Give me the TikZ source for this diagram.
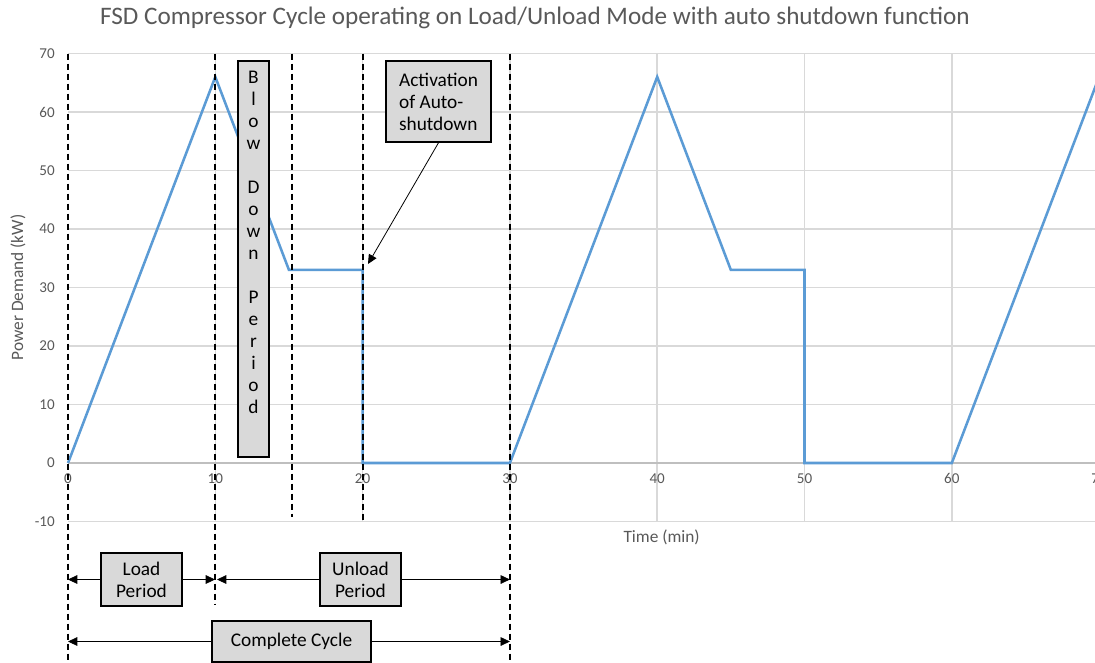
\documentclass[tikz,border=0pt]{standalone}
\usepackage{fontspec}
\setmainfont{Carlito}
\usetikzlibrary{arrows.meta}
\definecolor{gridc}{HTML}{D9D9D9}
\definecolor{zeroc}{HTML}{BFBFBF}
\definecolor{labc}{HTML}{595959}
\definecolor{curvec}{HTML}{5B9BD5}
\definecolor{boxc}{HTML}{D9D9D9}
\begin{document}
\begin{tikzpicture}[x=0.75pt,y=-0.75pt,
  gridline/.style={gridc, line width=1.1pt},
  zeroline/.style={zeroc, line width=1.1pt},
  ylab/.style={labc, anchor=east, inner sep=0pt, font=\fontsize{11.3}{13}\selectfont},
  xlab/.style={labc, anchor=north, inner sep=0pt, font=\fontsize{11.3}{13}\selectfont},
  axtitle/.style={labc, inner sep=0pt, font=\fontsize{13}{15}\selectfont},
  curveline/.style={curvec, line width=1.9pt, line join=miter},
  vdash/.style={black, line width=1.2pt, dash pattern=on 4.5pt off 3pt},
  graybox/.style={draw=black, fill=boxc, line width=1.1pt, inner sep=0pt, font=\fontsize{14.5}{16.5}\selectfont},
  arr/.style={black, line width=0.6pt, -{Triangle[length=7pt,width=6.5pt]}}
]
\useasboundingbox (0,0) rectangle (1095,662);
\clip (0,0) rectangle (1095,662);
\fill[white] (0,0) rectangle (1095,662);

\node[labc, font=\fontsize{18.9}{22}\selectfont, inner sep=0pt] (title) at (535,18) {FSD Compressor Cycle operating on Load/Unload Mode with auto shutdown function};

\begin{scope}[shift={(68,463)}, x=11.0475pt, y=4.3875pt]
  \foreach \v in {-10,10,20,...,70} \draw[gridline] (0,\v) -- (76,\v);
  \foreach \t in {10,20,...,70} \draw[gridline] (\t,-10) -- (\t,70);
  \draw[zeroline] (0,0) -- (76,0);
  \foreach \v in {-10,0,10,...,70} \node[ylab] (yl\v) at (-0.88,\v) {\v};
  \foreach \t in {0,10,...,70} \node[xlab] (xl\t) at (\t,-1.75) {\t};
  \node[axtitle] (xtitle) at (40.3,-12.7) {Time (min)};
  \node[axtitle, rotate=90] (ytitle) at (-3.4,30) {Power Demand (kW)};

  \draw[curveline] (0,0) -- (10,66) -- (15,33) -- (20,33) -- (20,0) -- (30,0) -- (40,66) -- (45,33) -- (50,33) -- (50,0) -- (60,0) -- (70,66);

  \coordinate (d0top) at (0,70);   \coordinate (d0bot) at (0,-34.2);
  \coordinate (d10top) at (9.98,70); \coordinate (d10bot) at (9.98,-24.3);
  \coordinate (d15top) at (15.2,70); \coordinate (d15bot) at (15.2,-9.2);
  \coordinate (d20top) at (20.03,70); \coordinate (d20bot) at (20.03,-10);
  \coordinate (d30top) at (30,70); \coordinate (d30bot) at (30,-34.2);
\end{scope}

\draw[vdash] (d0top) -- (d0bot);
\draw[vdash] (d10top) -- (d10bot);
\draw[vdash] (d15top) -- (d15bot);
\draw[vdash] (d20top) -- (d20bot);
\draw[vdash] (d30top) -- (d30bot);

% Blow down period
\node[graybox, minimum width=31*0.75pt, minimum height=396*0.75pt] (blowbox) at (253.5,259) {};
\node[inner sep=0pt, align=center, font=\fontsize{14.5}{16.5}\selectfont] (blowtext) at (253.5,242.5)
  {B\\l\\o\\w\\\mbox{}\\D\\o\\w\\n\\\mbox{}\\P\\e\\r\\i\\o\\d};

% Activation of auto-shutdown
\node[graybox, align=left, minimum width=105*0.75pt, minimum height=81*0.75pt] (actbox) at (438.5,101.5)
  {Activation\\of Auto-\\shutdown};
\coordinate (acttip) at (368,264);
\draw[arr] (actbox.south) -- (acttip);

% Load / Unload
\node[graybox, align=center, minimum width=81*0.75pt, minimum height=53*0.75pt] (loadbox) at (141.5,579.5) {Load\\Period};
\node[graybox, align=center, minimum width=81*0.75pt, minimum height=53*0.75pt] (unloadbox) at (360.5,579.5) {Unload\\Period};
\draw[arr] (loadbox.west) -- (loadbox.west -| d0bot);
\draw[arr] (loadbox.east) -- (loadbox.east -| d10bot);
\draw[arr] (unloadbox.west) -- ([xshift=1.5pt]unloadbox.west -| d10bot);
\draw[arr] (unloadbox.east) -- (unloadbox.east -| d30bot);

% Complete cycle
\node[graybox, minimum width=159*0.75pt, minimum height=41*0.75pt] (cyclebox) at (291.5,641.5) {Complete Cycle};
\draw[arr] (cyclebox.west) -- (cyclebox.west -| d0bot);
\draw[arr] (cyclebox.east) -- (cyclebox.east -| d30bot);
\end{tikzpicture}
\end{document}
